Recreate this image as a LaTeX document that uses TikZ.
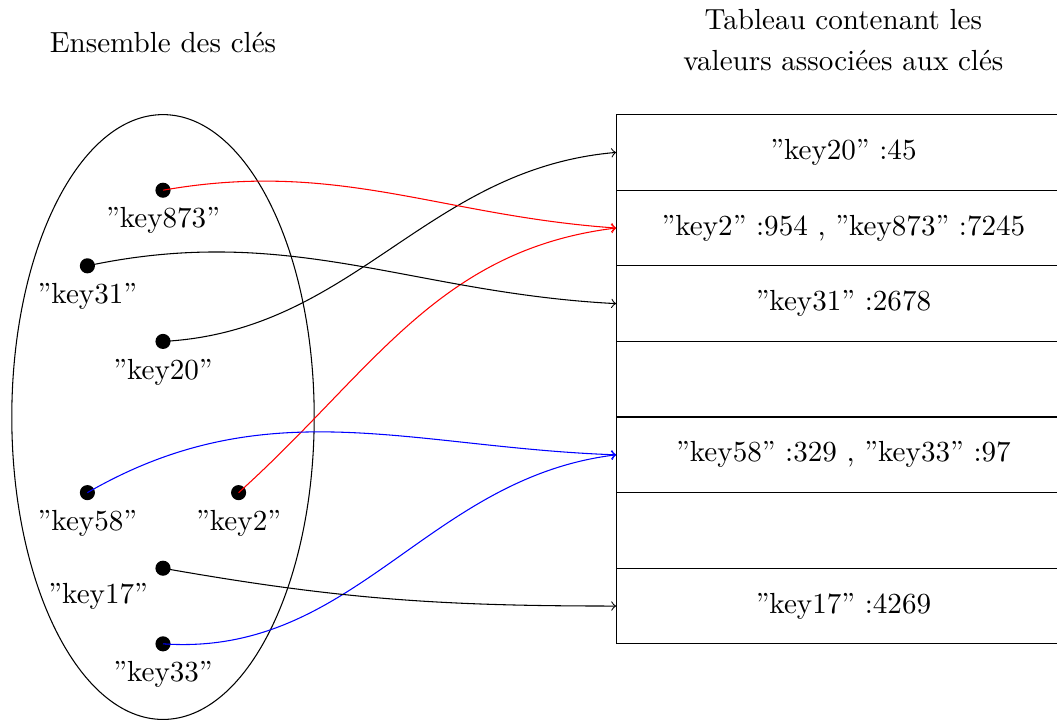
\documentclass[tikz,border=0pt]{standalone}
\usetikzlibrary{shapes.geometric}
\begin{document}
\begin{tikzpicture}[
  every node/.append style={font=\fontsize{10.95}{13.6}\selectfont},
  dot/.style={circle, fill, inner sep=0pt, minimum size=2mm, label distance=-1.5pt},
  cell/.style={draw, minimum width=6cm, minimum height=1cm, inner sep=0pt},
  link/.style={->},
]
\useasboundingbox (-2.156,-4.01) rectangle (11.825,5.516);
\clip (-2.156,-4.01) rectangle (11.825,5.516);

% titles
\node (titleL) at (0,4.96) {Ensemble des clés};
\node[align=center] (titleR) at (9,4.985) {Tableau contenant les\\[2pt]valeurs associées aux clés};

% set of keys
\node[draw, ellipse, minimum width=4cm, minimum height=8cm, inner sep=0pt] (keyset) at (0,0) {};

% table of values
\node[cell] (r1) at (9, 3.5) {”key20” :45};
\node[cell] (r2) at (9, 2.5) {”key2” :954 , ”key873” :7245};
\node[cell] (r3) at (9, 1.5) {”key31” :2678};
\node[cell] (r4) at (9, 0.5) {};
\node[cell] (r5) at (9,-0.5) {”key58” :329 , ”key33” :97};
\node[cell] (r6) at (9,-1.5) {};
\node[cell] (r7) at (9,-2.5) {”key17” :4269};

% keys
\node[dot, label=below:{”key873”}] (k873) at (0, 3) {};
\node[dot, label=below:{”key31”}]  (k31)  at (-1, 2) {};
\node[dot, label=below:{”key20”}]  (k20)  at (0, 1) {};
\node[dot, label=below:{”key58”}]  (k58)  at (-1,-1) {};
\node[dot, label=below:{”key2”}]   (k2)   at (1,-1) {};
\node[dot, label distance=-4pt, label=below left:{”key17”}] (k17) at (0,-2) {};
\node[dot, label=below:{”key33”}]  (k33)  at (0,-3) {};

% hashing links
\draw[link] (k20.center) to[out=3, in=185] (r1.west);
\draw[link, red] (k873.center) to[out=10, in=176] (r2.west);
\draw[link, red] (k2.center) to[out=42, in=187] (r2.west);
\draw[link] (k31.center) to[out=12, in=177] (r3.west);
\draw[link, blue] (k58.center) to[out=30, in=178] (r5.west);
\draw[link, blue] (k33.center) to[out=-4, in=187] (r5.west);
\draw[link] (k17.center) to[out=-10, in=180] (r7.west);
\end{tikzpicture}
\end{document}
